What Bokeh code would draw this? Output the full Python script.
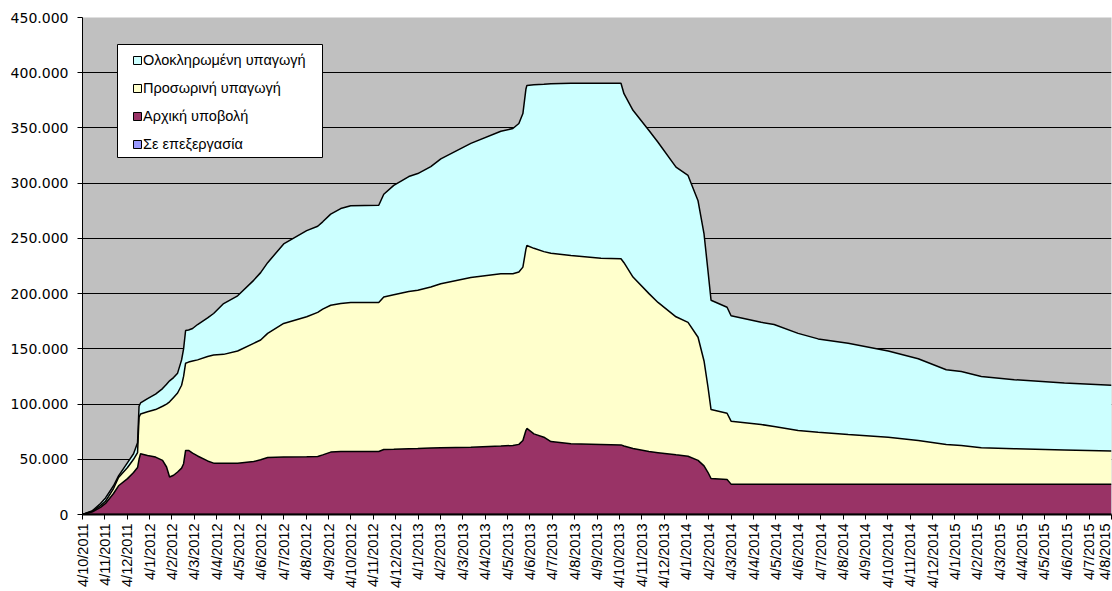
import math
from bokeh.plotting import figure
from bokeh.models import (ColumnDataSource, FixedTicker, Range1d, Legend, LegendItem,
                          BoxAnnotation)
from bokeh.transform import stack
from bokeh.embed import file_html
from bokeh.resources import INLINE

# x position: months after 4/10/2011 (tick k = day 4 of the k-th month)
months = [0.0, 0.447, 0.805, 1.029, 1.387, 1.611, 2.013, 2.282, 2.461, 2.528,
          2.595, 2.908, 3.266, 3.579, 3.758, 3.893, 4.072, 4.251, 4.430, 4.519,
          4.609, 4.743, 4.922, 5.145, 5.593, 5.861, 6.309, 6.935, 7.651, 7.964,
          8.277, 8.993, 10.022, 10.515, 10.738, 11.096, 11.544, 11.991, 13.244, 13.468,
          13.915, 14.586, 14.989, 15.570, 16.018, 17.360, 18.702, 19.239, 19.508, 19.687,
          19.821, 19.866, 20.179, 20.626, 20.940, 21.834, 23.177, 24.072, 24.206, 24.609,
          25.324, 25.727, 26.532, 27.069, 27.517, 27.785, 27.964, 28.098, 28.814, 28.993,
          30.336, 30.917, 31.991, 32.886, 34.228, 36.018, 37.360, 38.613, 39.284, 40.179,
          41.655, 43.893, 46.0]

# values in thousands
in_processing = [0, 0, 0, 0, 0, 0, 0, 0, 0, 0,
                 0, 0, 0, 0, 0, 0, 0, 0, 0, 0,
                 0, 0, 0, 0, 0, 0, 0, 0, 0, 0,
                 0, 0, 0, 0, 0, 0, 0, 0, 0, 0,
                 0, 0, 0, 0, 0, 0, 0, 0, 0, 0,
                 0, 0, 0, 0, 0, 0, 0, 0, 0, 0,
                 0, 0, 0, 0, 0, 0, 0, 0, 0, 0,
                 0, 0, 0, 0, 0, 0, 0, 0, 0, 0,
                 0, 0, 0]

initial = [0, 2.5, 6.5, 10, 19, 26, 32.5, 38, 42.5, 50,
           55, 53.5, 52, 49, 43, 34, 35.5, 38.5, 42, 46,
           58, 58, 55.5, 53, 48.5, 46.5, 46.5, 46.5, 48, 49.5,
           51.6, 52, 52.3, 52.5, 54, 56.5, 57, 57, 57, 58.8,
           59, 59.5, 59.8, 60.3, 60.5, 61, 62, 62.5, 63.5, 67,
           76, 77.9, 73, 70, 66, 64, 63.4, 63, 62, 59.8,
           57, 56, 54, 52.8, 49, 44, 38, 32.6, 31.7, 27.5,
           27.5, 27.5, 27.5, 27.5, 27.5, 27.5, 27.5, 27.5, 27.5, 27.5,
           27.5, 27.5, 27.5]

provisional = [0, 0.5, 1.5, 2, 4.5, 7.5, 10, 12, 13.5, 38,
               36, 39.5, 43, 49, 57, 68, 70.5, 71.5, 75, 79,
               79, 80, 83.5, 87, 94.5, 98, 98.5, 101.5, 107, 108.5,
               112.4, 121, 126.7, 130.5, 132, 133, 134, 135, 135, 138.2,
               140, 142.5, 143.2, 145.7, 148.5, 153.6, 156, 155.5, 156, 157,
               164, 165.7, 168, 168, 170.5, 170.5, 168.6, 168.5, 166, 155.2,
               143, 136, 125, 121.2, 111.5, 95, 77, 62.4, 60, 57,
               54, 52.2, 48.5, 47, 45, 42.5, 39.5, 35.9, 35, 32.9,
               32, 31, 30]

complete = [0, 0.5, 2, 3, 2.5, 1.5, 4.5, 5, 9, 10,
            10, 12, 14, 16, 18, 19, 18, 18, 23, 25,
            29.6, 29, 29.4, 32, 35, 37.5, 46, 50, 57, 61,
            64, 72, 78, 78, 79, 82.5, 86, 87.5, 88, 93,
            99, 104, 105.7, 109, 113, 121.4, 129, 131.5, 134.5, 139,
            145, 144.9, 148, 151.5, 153.5, 156, 158.5, 159, 153, 151,
            147.7, 145, 135.5, 133, 123.5, 115, 105, 99, 96, 95.5,
            92.5, 92.3, 88, 84.5, 82.5, 78, 74, 67.6, 67, 64.6,
            62.5, 60.5, 59.5]

x_labels = ["4/10/2011", "4/11/2011", "4/12/2011",
            "4/1/2012", "4/2/2012", "4/3/2012", "4/4/2012", "4/5/2012", "4/6/2012",
            "4/7/2012", "4/8/2012", "4/9/2012", "4/10/2012", "4/11/2012", "4/12/2012",
            "4/1/2013", "4/2/2013", "4/3/2013", "4/4/2013", "4/5/2013", "4/6/2013",
            "4/7/2013", "4/8/2013", "4/9/2013", "4/10/2013", "4/11/2013", "4/12/2013",
            "4/1/2014", "4/2/2014", "4/3/2014", "4/4/2014", "4/5/2014", "4/6/2014",
            "4/7/2014", "4/8/2014", "4/9/2014", "4/10/2014", "4/11/2014", "4/12/2014",
            "4/1/2015", "4/2/2015", "4/3/2015", "4/4/2015", "4/5/2015", "4/6/2015",
            "4/7/2015", "4/8/2015"]

y_ticks = [0, 50000, 100000, 150000, 200000, 250000, 300000, 350000, 400000, 450000]
y_labels = ["0", "50.000", "100.000", "150.000", "200.000", "250.000",
            "300.000", "350.000", "400.000", "450.000"]

series_keys = ["proc", "init", "prov", "comp"]
series_names = ["Σε επεξεργασία", "Αρχική υποβολή", "Προσωρινή υπαγωγή", "Ολοκληρωμένη υπαγωγή"]
series_colors = ["#9999FF", "#993366", "#FFFFCC", "#CCFFFF"]

source = ColumnDataSource(data=dict(
    t=months,
    proc=[v * 1000 for v in in_processing],
    init=[v * 1000 for v in initial],
    prov=[v * 1000 for v in provisional],
    comp=[v * 1000 for v in complete],
))

FONT = "Liberation Sans"

p = figure(width=1112, height=591,
           x_range=Range1d(0, 46), y_range=Range1d(0, 450000),
           output_backend="svg", toolbar_location=None,
           min_border_left=82, min_border_right=1, min_border_top=17, min_border_bottom=77)
p.background_fill_color = "#C0C0C0"
p.border_fill_color = "white"
p.outline_line_color = None

p.xgrid.visible = False
p.ygrid.grid_line_color = "black"
p.ygrid.grid_line_width = 1

# y axis
p.yaxis.ticker = FixedTicker(ticks=y_ticks)
p.yaxis.major_label_overrides = {v: s for v, s in zip(y_ticks, y_labels)}
p.yaxis.minor_tick_line_color = None
p.yaxis.major_tick_out = 5
p.yaxis.major_tick_in = 0
p.yaxis.major_label_standoff = 9
p.yaxis.major_label_text_font = "DejaVu Sans"
p.yaxis.major_label_text_font_size = "14px"
p.yaxis.major_label_text_color = "black"
p.yaxis.axis_line_color = "black"
p.yaxis.major_tick_line_color = "black"

# x axis
p.xaxis.ticker = FixedTicker(ticks=list(range(len(x_labels))))
p.xaxis.major_label_overrides = {i: s for i, s in enumerate(x_labels)}
p.xaxis.minor_tick_line_color = None
p.xaxis.major_tick_out = 5
p.xaxis.major_tick_in = 0
p.xaxis.major_label_standoff = 4
p.xaxis.major_label_orientation = math.pi / 2
p.xaxis.major_label_text_font = FONT
p.xaxis.major_label_text_font_size = "14.5px"
p.xaxis.major_label_text_color = "black"
p.xaxis.axis_line_color = "black"
p.xaxis.axis_line_width = 2
p.xaxis.major_tick_line_color = "black"

# stacked areas
p.varea_stack(stackers=series_keys, x="t", color=series_colors, source=source)
for i in range(len(series_keys)):
    p.line(x="t", y=stack(*series_keys[:i + 1]), source=source,
           line_color="black", line_width=1.5)

# legend box
box = BoxAnnotation(left=35, right=240, top=470, bottom=357,
                    left_units="screen", right_units="screen",
                    top_units="screen", bottom_units="screen",
                    fill_color="white", fill_alpha=1.0,
                    line_color="black", line_width=1, line_alpha=1.0)
p.add_layout(box)

nan = float("nan")
legend_items = []
for key, name, color in zip(series_keys, series_names, series_colors):
    r = p.quad(left=[nan], right=[nan], top=[nan], bottom=[nan], fill_color=color,
               line_color="black", line_width=1)
    legend_items.append(LegendItem(label=name, renderers=[r]))
legend_items.reverse()

legend = Legend(items=legend_items, location=(50, 360),
                padding=0, margin=0, spacing=8,
                glyph_width=10, glyph_height=10,
                label_height=20, label_standoff=1,
                label_text_font=FONT, label_text_font_size="14.5px",
                label_text_color="black",
                background_fill_alpha=0, border_line_color=None)
p.add_layout(legend)

open("out.html", "w").write(file_html(p, INLINE))
